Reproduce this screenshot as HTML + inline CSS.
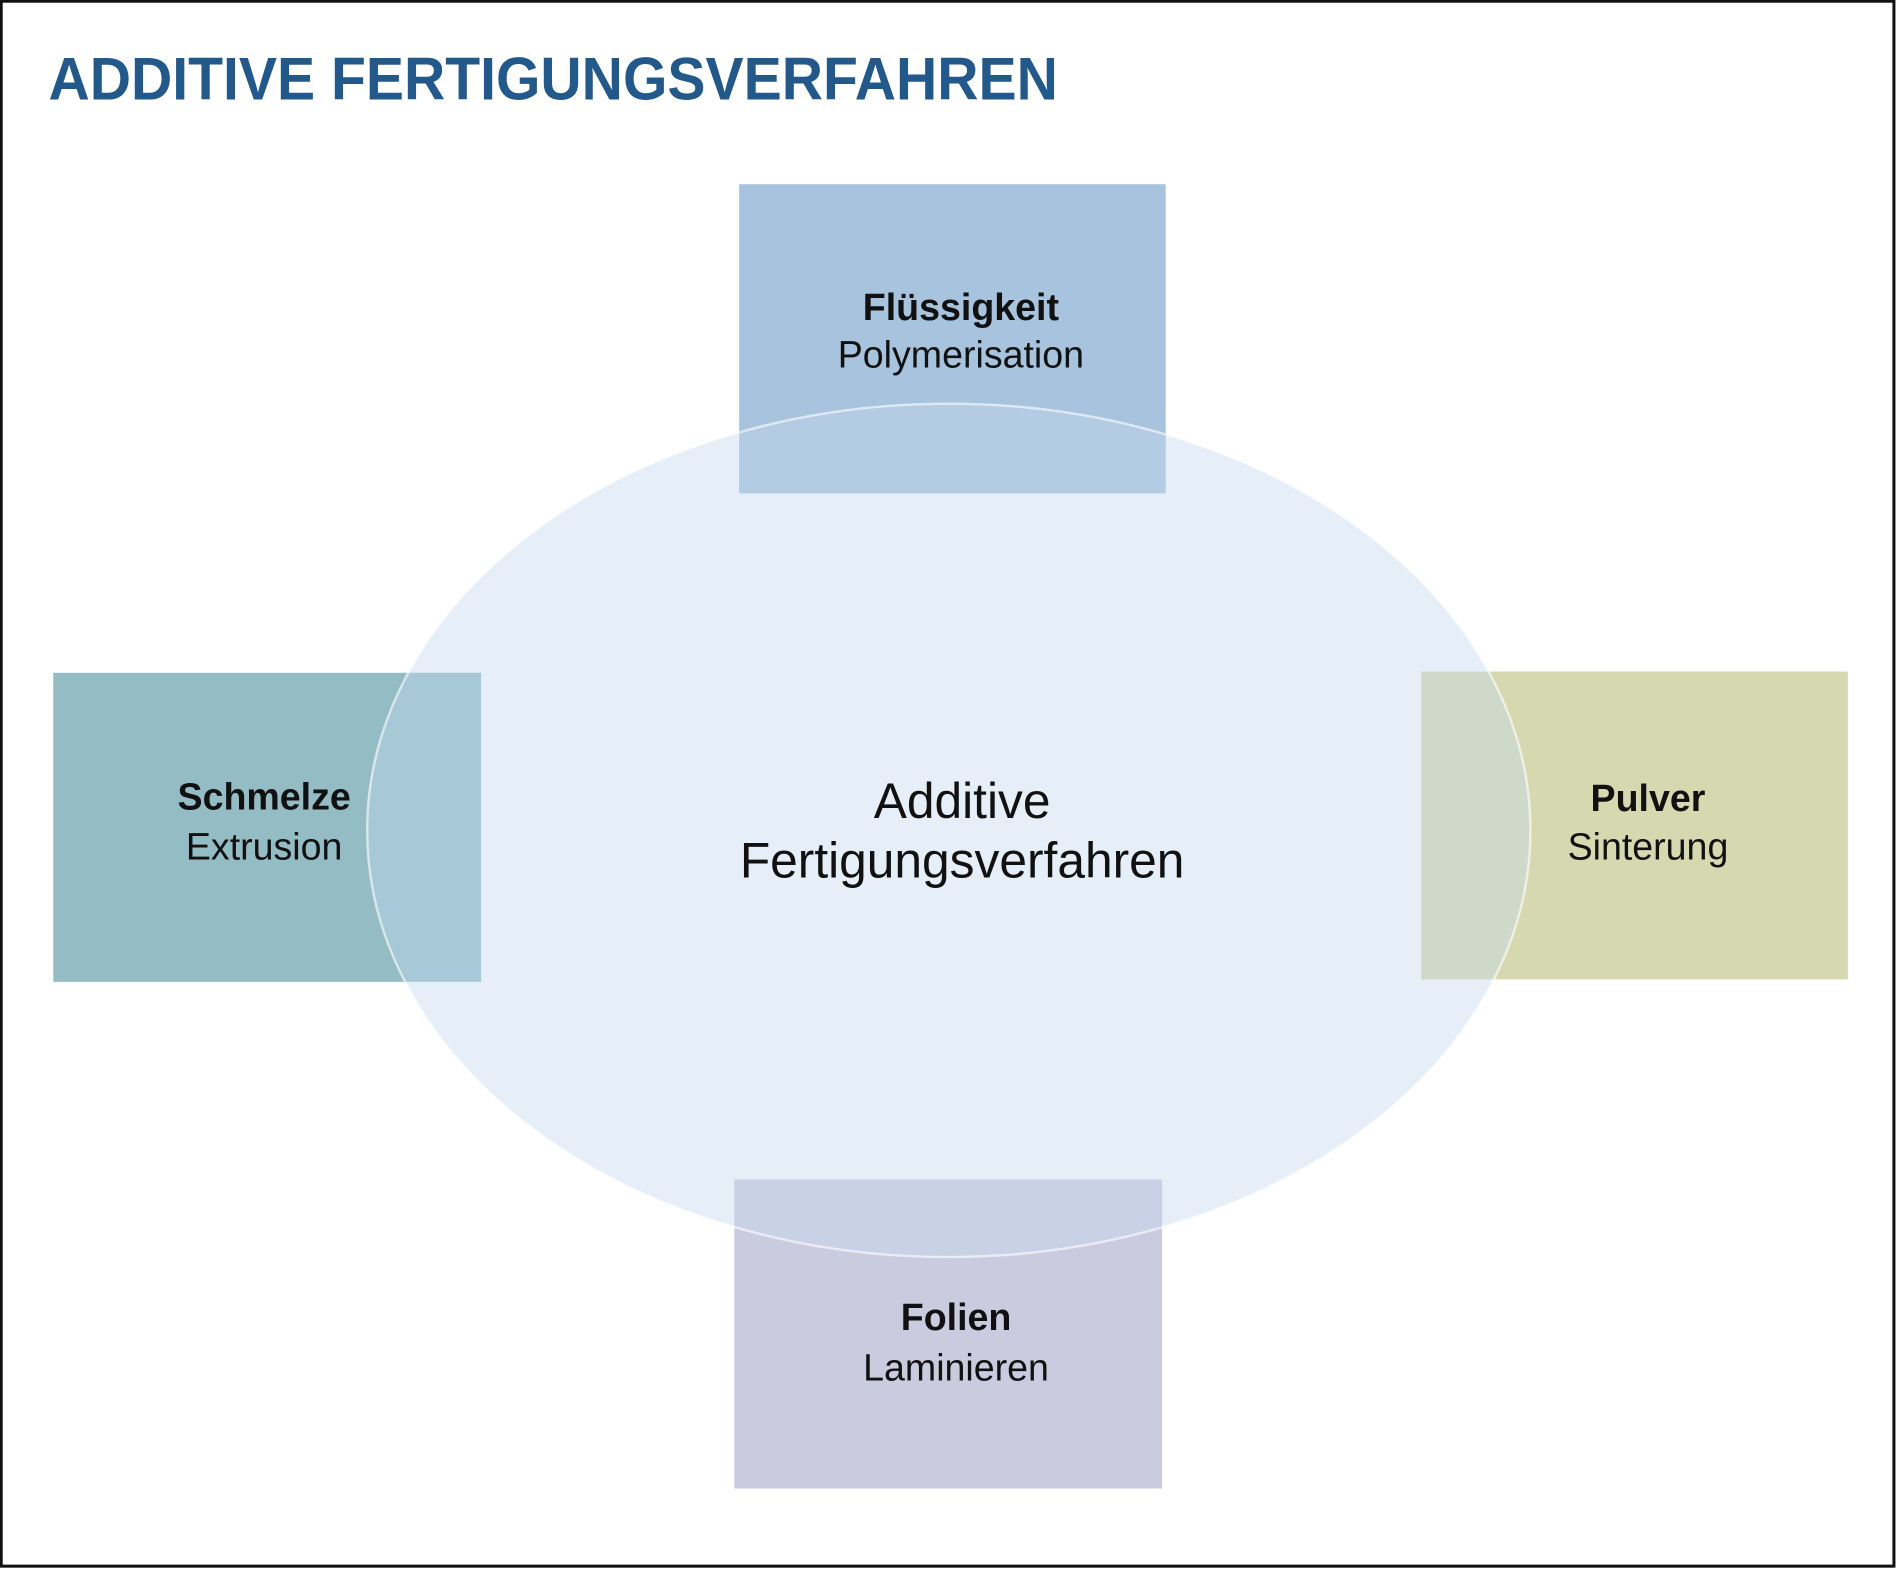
<!DOCTYPE html>
<html><head><meta charset="utf-8"><style>
html,body{margin:0;padding:0;background:#fff;}
svg{display:block;}
</style></head><body>
<svg width="1900" height="1571" viewBox="0 0 1568 1296" preserveAspectRatio="none" xmlns="http://www.w3.org/2000/svg">
<rect x="1" y="1" width="1562" height="1291" fill="#fff" stroke="#111" stroke-width="2.5"/>
<text x="40" y="82" font-family="Liberation Sans, sans-serif" font-weight="bold" font-size="50" fill="#22588a" textLength="833" lengthAdjust="spacingAndGlyphs">ADDITIVE FERTIGUNGSVERFAHREN</text>
<rect x="610" y="152" width="352" height="255" fill="#a7c3dd"/>
<rect x="44" y="555" width="353" height="255" fill="#93bcc4"/>
<rect x="1173" y="554" width="352" height="254" fill="#d6d9b0"/>
<rect x="606" y="973" width="353" height="255" fill="#cbcbe0"/>
<ellipse cx="783" cy="685" rx="480" ry="352" fill="rgb(195,217,238)" fill-opacity="0.42" stroke="#ffffff" stroke-opacity="0.6" stroke-width="2"/>
<g font-family="Liberation Sans, sans-serif" fill="#111" text-anchor="middle">
<text x="793" y="264" font-size="31" font-weight="bold">Flüssigkeit</text>
<text x="793" y="303" font-size="31">Polymerisation</text>
<text x="218" y="668" font-size="31" font-weight="bold">Schmelze</text>
<text x="218" y="709" font-size="31">Extrusion</text>
<text x="1360" y="669" font-size="31" font-weight="bold">Pulver</text>
<text x="1360" y="709" font-size="31">Sinterung</text>
<text x="789" y="1097" font-size="31" font-weight="bold">Folien</text>
<text x="789" y="1139" font-size="31">Laminieren</text>
<text x="794" y="675" font-size="41">Additive</text>
<text x="794" y="724" font-size="41">Fertigungsverfahren</text>
</g>
</svg>
</body></html>
